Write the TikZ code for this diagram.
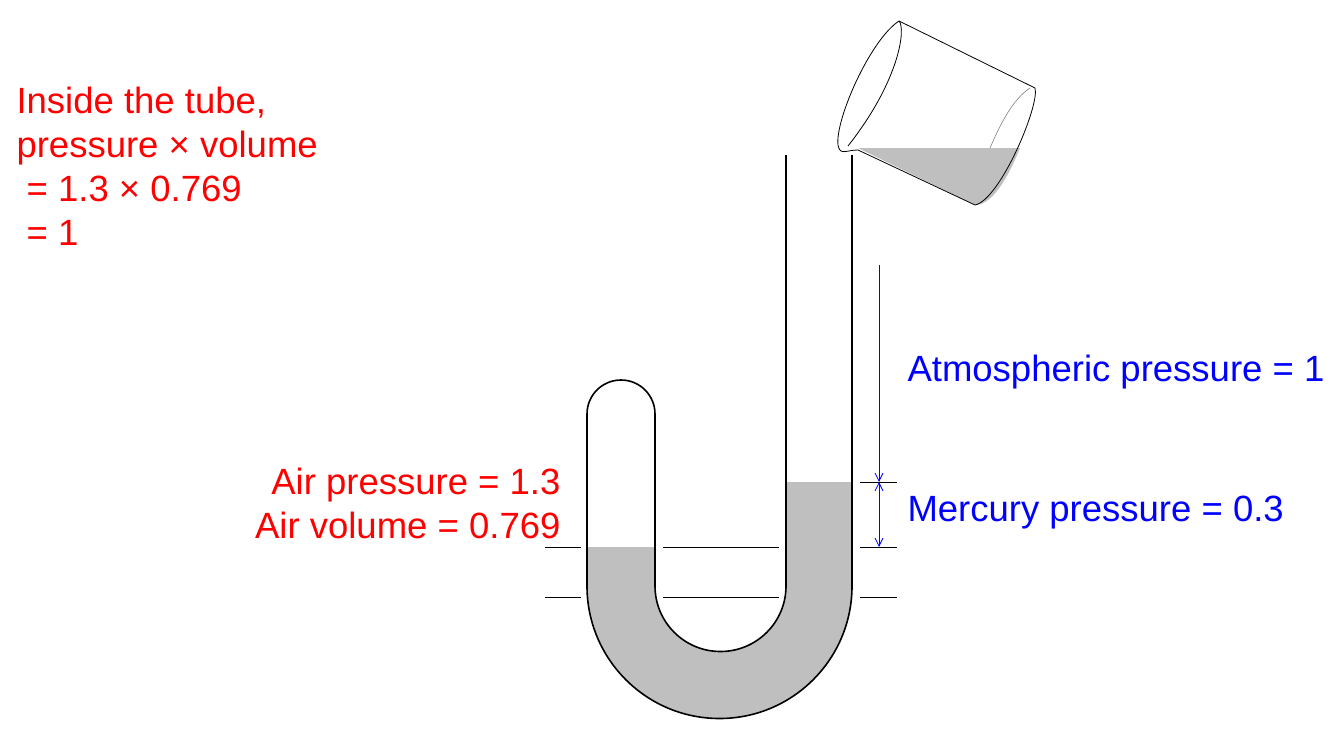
\documentclass[tikz,border=0pt]{standalone}
\usepackage{fontspec}
\setmainfont{Liberation Sans}
\usetikzlibrary{arrows.meta}
\begin{document}
\begin{tikzpicture}[x=1pt,y=-1pt,
  redtxt/.style={text=red,font=\fontsize{36.5}{44}\selectfont},
  bluetxt/.style={text=blue,font=\fontsize{36.5}{44}\selectfont},
  tube/.style={line width=1.6pt},
  tick/.style={line width=0.7pt},
  dim/.style={draw=blue,line width=0.8pt}]
\useasboundingbox (0,0) rectangle (1342,740);
% mercury
\fill[gray!50] (587,547) -- (587,586) arc[start angle=180,end angle=360,x radius=132.5,y radius=-132.5] -- (852,482) -- (786,482) -- (786,586) arc[start angle=360,end angle=180,x radius=65.5,y radius=-65.5] -- (655,547) -- cycle;
% tube
\draw[tube] (655,586) -- (655,414) arc[start angle=0,end angle=180,x radius=34,y radius=-34] -- (587,586)
  arc[start angle=180,end angle=360,x radius=132.5,y radius=-132.5] -- (852,155);
\draw[tube] (786,155) -- (786,586) arc[start angle=360,end angle=180,x radius=65.5,y radius=-65.5];
% ticks
\foreach \y in {547,597}{
  \draw[tick] (545,\y) -- (581,\y);
  \draw[tick] (663,\y) -- (779,\y);
  \draw[tick] (860,\y) -- (897,\y);}
\draw[tick] (860,482) -- (897,482);
% dims
\coordinate (a) at (879,265); \coordinate (b) at (879,482); \coordinate (c) at (879,547);
\draw[dim,-{Straight Barb[length=8pt,width=8pt]}] (a) -- (b);
\draw[dim,{Straight Barb[length=8pt,width=8pt]}-{Straight Barb[length=8pt,width=8pt]}] (b) -- (c);
% texts
\node[redtxt,anchor=west,align=left] (t1) at (13,166) {Inside the tube,\\pressure × volume\\\ = 1.3 × 0.769\\\ = 1};
\node[redtxt,anchor=east,align=right] (t2) at (564,503) {Air pressure = 1.3\\Air volume = 0.769};
\node[bluetxt,anchor=west] (t3) at (904,372) {Atmospheric pressure = 1};
\node[bluetxt,anchor=west] (t4) at (904,513) {Mercury pressure = 0.3};
% beaker
\fill[gray!50] (858,148) -- (1020,148) .. controls (1005,185) and (990,205) .. (975,205) -- cycle;
\draw[gray,line width=0.6pt] (1030,88) .. controls (1012,100) and (1000,125) .. (990,148);
\draw[line width=0.8pt] (899,21) -- (1035,88) .. controls (1040,105) and (1000,200) .. (975,205) -- (858,150);
\draw[line width=0.8pt] (899,21) .. controls (870,40) and (835,120) .. (838,145) .. controls (840,156) and (846,150) .. (858,150);
\draw[line width=0.8pt] (899,21) .. controls (906,28) and (900,80) .. (848,146);
\end{tikzpicture}
\end{document}
